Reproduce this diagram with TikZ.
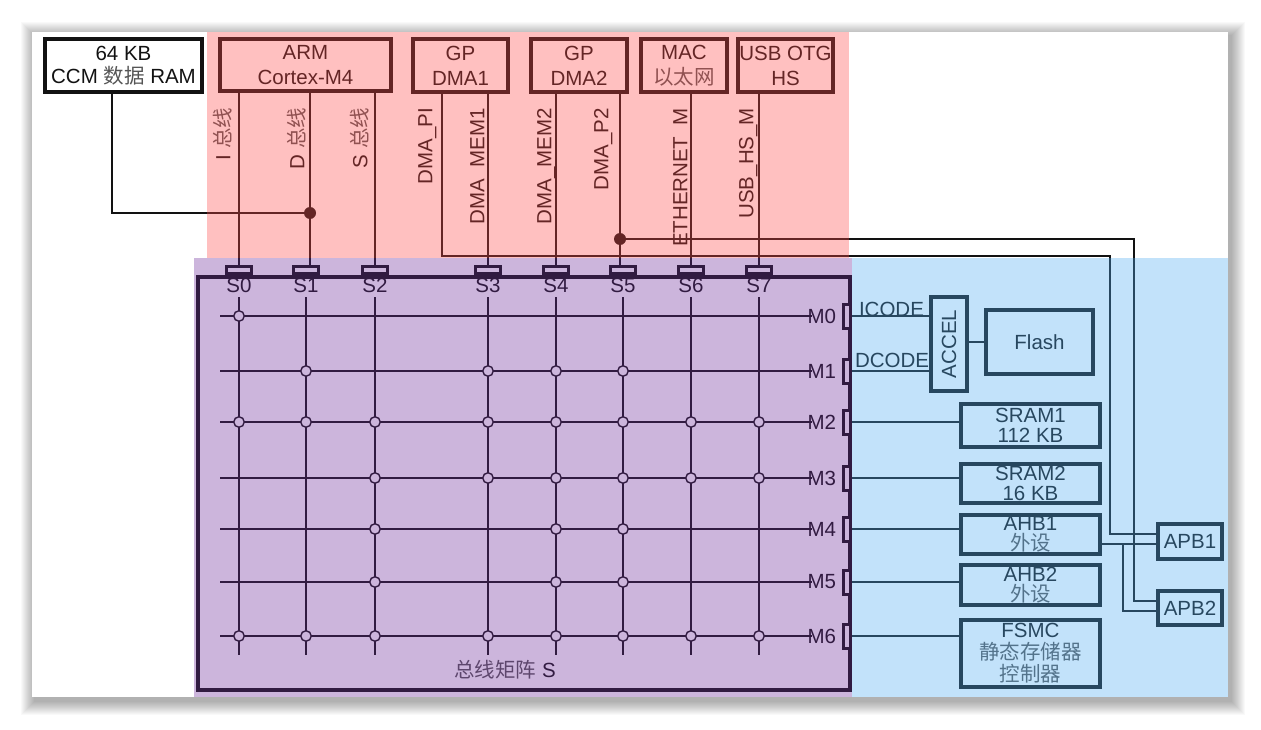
\documentclass[tikz,border=0pt]{standalone}
\usepackage{fontspec}
\usepackage{graphicx}
\setmainfont{Liberation Sans}
\newfontfamily\cjkfont{Noto Sans CJK SC}
\definecolor{pinkov}{RGB}{255,75,75}
\definecolor{purpov}{RGB}{109,44,155}
\definecolor{blueov}{RGB}{81,172,241}
\definecolor{ink}{RGB}{18,18,18}
\definecolor{cjkink}{RGB}{85,85,85}
\newcommand\zhtext[1]{{\cjkfont\color{cjkink}#1}}
\begin{document}
\begin{tikzpicture}[x=1pt,y=-1pt,
  every node/.style={inner sep=0pt, outer sep=0pt, text=ink, font=\fontsize{20.5pt}{20pt}\selectfont},
  topbox/.style={draw=ink, line width=4pt, fill=white, align=center, font=\fontsize{20.5pt}{25pt}\selectfont},
  rbox/.style={draw=ink, line width=4pt, fill=white, align=center, font=\fontsize{20.5pt}{20pt}\selectfont},
  sport/.style={draw=ink, line width=3pt, fill=white, minimum width=25pt, minimum height=7pt},
  mport/.style={draw=ink, line width=3pt, fill=white, minimum width=7pt, minimum height=24pt},
  wire/.style={draw=ink, line width=1.3pt},
  gridline/.style={draw=ink, line width=1.6pt},
  hub/.style={circle, draw=ink, line width=1.4pt, fill=white, minimum size=10.5pt},
  joint/.style={circle, fill=ink, minimum size=12pt},
  vlab/.style={rotate=90, anchor=east, text height=14.7pt, text depth=0pt},
]
\useasboundingbox (0,0) rectangle (1261,730);
\fill[white] (0,0) rectangle (1261,730);
% page shadow
\foreach \i in {1,...,14}
  \fill[black, opacity=0.022] (32-\i+3,32-\i+4) rectangle (1228+\i+3,697+\i+4);
\fill[white] (32,32) rectangle (1228,697);

% ---------- top masters ----------
\node[topbox, minimum width=157pt, minimum height=53pt, font=\fontsize{20.5pt}{23pt}\selectfont] (ccm) at (123.5,65.5) {64 KB\\CCM \zhtext{数据} RAM};
\node[topbox, minimum width=171pt, minimum height=52pt] (arm) at (305.5,65) {ARM\\Cortex-M4};
\node[topbox, minimum width=95pt, minimum height=53pt] (dma1) at (460.5,65.5) {GP\\DMA1};
\node[topbox, minimum width=96pt, minimum height=53pt] (dma2) at (579,65.5) {GP\\DMA2};
\node[topbox, minimum width=86pt, minimum height=53pt] (mac) at (684,65.5) {MAC\\\zhtext{以太网}};
\node[topbox, minimum width=95pt, minimum height=53pt] (usb) at (785.5,65.5) {USB OTG\\HS};

% bus labels
\node[vlab] (lI) at (223,108) {I \zhtext{总线}};
\node[vlab] (lD) at (297,108) {D \zhtext{总线}};
\node[vlab] (lS) at (360,108) {S \zhtext{总线}};
\node[vlab] (lpi) at (425,108) {DMA\_PI};
\node[vlab] (lm1) at (477,108) {DMA\_MEM1};
\node[vlab] (lm2) at (544,108) {DMA\_MEM2};
\node[vlab] (lp2) at (601,108) {DMA\_P2};
\node[vlab] (leth) at (680,108) {ETHERNET\_M};
\node[vlab] (lusb) at (746,108) {USB\_HS\_M};

% ---------- bus matrix ----------
\node[draw=ink, line width=4pt, minimum width=652pt, minimum height=413pt] (mx) at (524,483.5) {};

\coordinate (gtop) at (0,297);
\coordinate (gbot) at (0,655);
\coordinate (gl) at (220,0);
\coordinate (gr) at (812,0);

\foreach \n/\x in {0/239,1/306,2/375,3/488,4/556,5/623,6/691,7/759} {
  \node[sport] (s\n) at (\x,270) {};
  \node (ls\n) at (\x,285) {S\n};
}
\foreach \m/\y in {0/316,1/371,2/422,3/478,4/529,5/582,6/636} {
  \node[mport] (m\m) at (847,\y) {};
}
\foreach \n in {0,...,7}
  \draw[gridline] (s\n |- gtop) -- (s\n |- gbot);
\foreach \m in {0,...,6}
  \draw[gridline] (gl |- m\m) -- (gr |- m\m);
\foreach \m/\y in {0/316,1/371,2/422,3/478,4/529,5/582,6/636}
  \node[anchor=east] (lm\m) at (836,\y) {M\m};

\foreach \m/\cols in {0/{0},1/{1,3,4,5},2/{0,1,2,3,4,5,6,7},3/{2,3,4,5,6,7},4/{2,4,5},5/{2,4,5},6/{0,1,2,3,4,5,6,7}} {
  \foreach \c in \cols {
    \node[hub] (h\m\c) at (s\c |- m\m) {};
  }
}
\node (mxlab) at (505,670) {\zhtext{总线矩阵} S};

% ---------- slaves ----------
\node[rbox, minimum width=36pt, minimum height=94pt] (accel) at (949,344) {\rotatebox{90}{ACCEL}};
\node[rbox, minimum width=107pt, minimum height=64pt] (flash) at (1039.5,342) {Flash};
\node[rbox, minimum width=139pt, minimum height=43pt] (sram1) at (1030.5,425.5) {SRAM1\\112 KB};
\node[rbox, minimum width=139pt, minimum height=39pt] (sram2) at (1030.5,483.5) {SRAM2\\16 KB};
\node[rbox, minimum width=139pt, minimum height=39pt] (ahb1) at (1030.5,534.5) {AHB1\\\zhtext{外设}};
\node[rbox, minimum width=139pt, minimum height=40pt] (ahb2) at (1030.5,585) {AHB2\\\zhtext{外设}};
\node[rbox, minimum width=139pt, minimum height=67pt, font=\fontsize{20.5pt}{22pt}\selectfont] (fsmc) at (1030.5,653.5) {FSMC\\\zhtext{静态存储器}\\\zhtext{控制器}};
\node[rbox, minimum width=64pt, minimum height=35pt] (apb1) at (1190,541.5) {APB1};
\node[rbox, minimum width=64pt, minimum height=34pt] (apb2) at (1190,608) {APB2};

\node[anchor=base west] (icl) at (859,316.5) {ICODE};
\node[anchor=base west] (dcl) at (855,367.5) {DCODE};

% slave connections
\draw[wire] (m0.east) -- (m0.east -| accel.west);
\draw[wire] (m1.east) -- (m1.east -| accel.west);
\draw[wire] (flash.west -| accel.east) -- (flash.west);
\draw[wire] (m2.east) -- (m2.east -| sram1.west);
\draw[wire] (m3.east) -- (m3.east -| sram2.west);
\draw[wire] (m4.east) -- (m4.east -| ahb1.west);
\draw[wire] (m5.east) -- (m5.east -| ahb2.west);
\draw[wire] (m6.east) -- (m6.east -| fsmc.west);

% ---------- master buses ----------
\coordinate (dj) at (310,213);
\coordinate (pj) at (620,239);
\coordinate (pic) at (442,256);
\coordinate (apbA) at (1110,534);
\coordinate (apbB) at (1134,601);
\coordinate (aout) at (1123,544);
\coordinate (abr) at (1123,611);

\draw[wire] (arm.south -| s0) -- (s0.north);
\draw[wire] (arm.south -| dj) -- (dj |- s1.north);
\draw[wire] (arm.south -| s2) -- (s2.north);
\draw[wire] (dma1.south -| s3) -- (s3.north);
\draw[wire] (dma2.south -| s4) -- (s4.north);
\draw[wire] (dma2.south -| pj) -- (pj |- s5.north);
\draw[wire] (mac.south -| s6) -- (s6.north);
\draw[wire] (usb.south -| s7) -- (s7.north);
\draw[wire] ([xshift=-11.5pt]ccm.south) |- (dj);
\draw[wire] (dma1.south -| pic) -- (pic) -| (apbA) -- (apbA -| apb1.west);
\draw[wire] (pj) -| (apbB) -- (apbB -| apb2.west);
\draw[wire] (ahb1.east |- aout) -- (aout -| apb1.west);
\draw[wire] (aout) -- (abr) -- (abr -| apb2.west);
\node[joint] (djdot) at (dj) {};
\node[joint] (pjdot) at (pj) {};

% ---------- colour overlays ----------
\fill[pinkov, fill opacity=0.35] (207,32) rectangle (849,258);
\fill[purpov, fill opacity=0.35] (194,258) rectangle (852,697);
\fill[blueov, fill opacity=0.35] (852,258) rectangle (1228,697);
\end{tikzpicture}
\end{document}
